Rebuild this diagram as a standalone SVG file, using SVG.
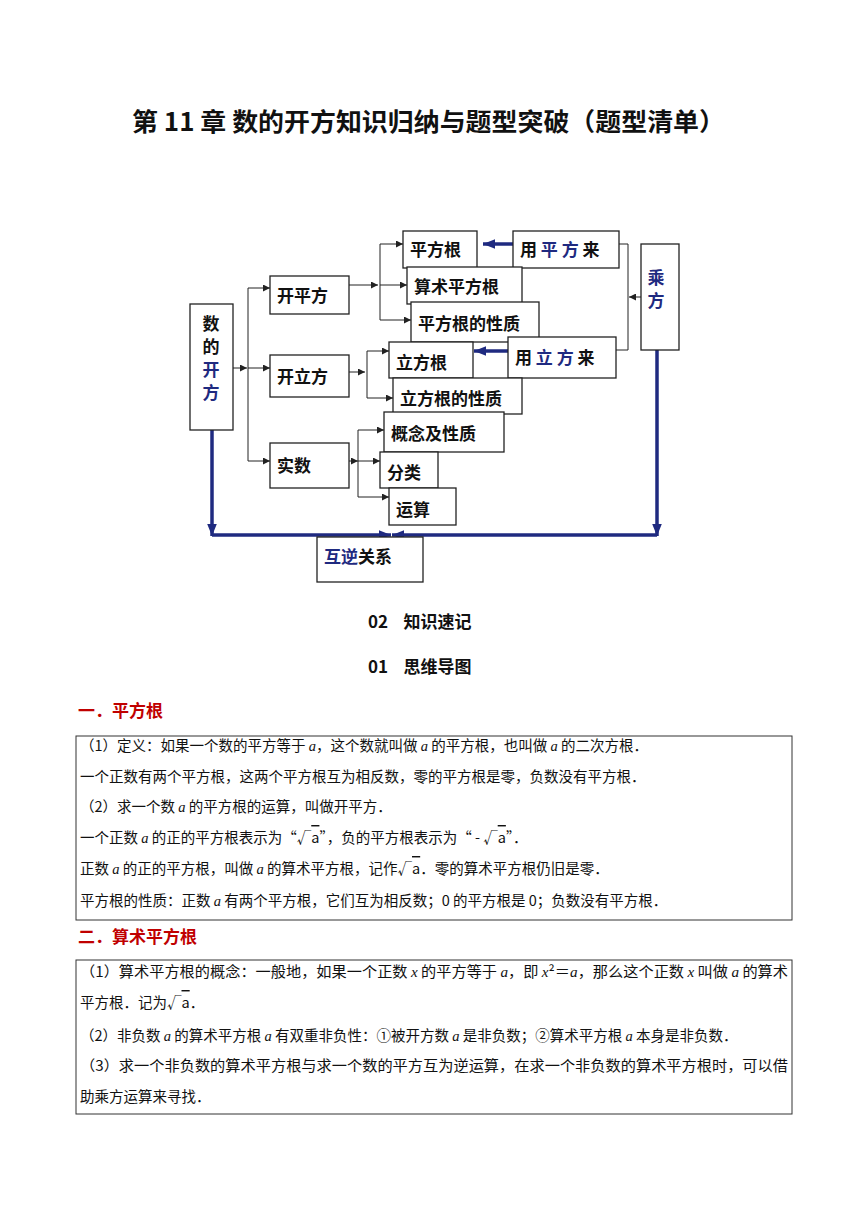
<svg xmlns="http://www.w3.org/2000/svg" width="868" height="1227" viewBox="0 0 868 1227">
<defs>
<style>
.n{fill:#fff;stroke:#222;stroke-width:1.3}
.t{font-family:"Noto Sans CJK SC",sans-serif;font-weight:bold;font-size:17px;fill:#111}
.b{fill:#1f2a80}
.c{fill:none;stroke:#222;stroke-width:1}
.k{fill:none;stroke:#1f2a80;stroke-width:3.5}
.p{font-family:"Noto Sans CJK SC",sans-serif;font-size:14.5px;fill:#111}
.i{font-family:"Liberation Serif",serif;font-style:italic}
</style>
<marker id="a" viewBox="0 0 10 10" refX="10" refY="5" markerWidth="7" markerHeight="7" orient="auto" markerUnits="userSpaceOnUse"><path d="M0,0L10,5L0,10z" fill="#222"/></marker>
<marker id="A" viewBox="0 0 10 10" refX="10" refY="5" markerWidth="12" markerHeight="12" orient="auto" markerUnits="userSpaceOnUse"><path d="M0,1L10,5L0,9z" fill="#1f2a80"/></marker>
</defs>
<rect width="868" height="1227" fill="#fff"/>
<text x="132" y="131" textLength="593" lengthAdjust="spacingAndGlyphs" font-family="Noto Sans CJK SC,sans-serif" font-weight="bold" font-size="25" fill="#111">第 11 章  数的开方知识归纳与题型突破（题型清单）</text>

<g id="connectors">
<path class="c" d="M233,368H247" marker-end="url(#a)"/>
<path class="c" d="M248,288V461"/>
<path class="c" d="M248,288H270" marker-end="url(#a)"/>
<path class="c" d="M248,368H270" marker-end="url(#a)"/>
<path class="c" d="M248,461H270" marker-end="url(#a)"/>
<path class="c" d="M349,285H378" marker-end="url(#a)"/>
<path class="c" d="M380,244V320"/>
<path class="c" d="M380,244H403" marker-end="url(#a)"/>
<path class="c" d="M380,285H407" marker-end="url(#a)"/>
<path class="c" d="M380,320H411" marker-end="url(#a)"/>
<path class="c" d="M349,372H365" marker-end="url(#a)"/>
<path class="c" d="M367,351V398"/>
<path class="c" d="M367,351H389" marker-end="url(#a)"/>
<path class="c" d="M367,398H393" marker-end="url(#a)"/>
<path class="c" d="M340,461H358" marker-end="url(#a)"/>
<path class="c" d="M358,430V497"/>
<path class="c" d="M358,430H384" marker-end="url(#a)"/>
<path class="c" d="M358,461H380" marker-end="url(#a)"/>
<path class="c" d="M358,497H389" marker-end="url(#a)"/>
<path class="c" d="M619,244H628V350H616"/>
<path class="c" d="M641,297H629" marker-end="url(#a)"/>
<path class="k" d="M513,244H483" marker-end="url(#A)"/>
<path class="k" d="M508,351H474" marker-end="url(#A)"/>
<path class="k" d="M212,430V536" marker-end="url(#A)"/>
<path class="k" d="M212,535H391" marker-end="url(#A)"/>
<path class="k" d="M657,350V536" marker-end="url(#A)"/>
<path class="k" d="M657,535H392" marker-end="url(#A)"/>
</g>

<g id="n1"><rect class="n" x="190" y="304" width="43" height="126"/><text class="t" font-size="19" x="211" y="330" text-anchor="middle">数</text><text class="t" font-size="19" x="211" y="353" text-anchor="middle">的</text><text class="t b" font-size="19" x="211" y="376" text-anchor="middle">开</text><text class="t b" font-size="19" x="211" y="399" text-anchor="middle">方</text></g>
<g id="n2"><rect class="n" x="270" y="276" width="79" height="38"/><text class="t" x="277" y="302">开平方</text></g>
<g id="n3"><rect class="n" x="270" y="355" width="79" height="42"/><text class="t" x="277" y="383">开立方</text></g>
<g id="n4"><rect class="n" x="270" y="443" width="79" height="45"/><text class="t" x="277" y="472">实数</text></g>
<g id="n5"><rect class="n" x="403" y="231" width="74" height="37"/><text class="t" x="410" y="256">平方根</text></g>
<g id="n6"><rect class="n" x="513" y="231" width="106" height="37"/><text class="t" x="520" y="256">用 <tspan class="b">平</tspan> <tspan class="b">方</tspan> 来</text></g>
<g id="n7"><rect class="n" x="407" y="267" width="115" height="37"/><text class="t" x="414" y="293">算术平方根</text></g>
<g id="n8"><rect class="n" x="411" y="302" width="128" height="40"/><text class="t" x="418" y="330">平方根的性质</text></g>
<g id="n9"><rect class="n" x="389" y="342" width="84" height="36"/><text class="t" x="396" y="369">立方根</text></g>
<g id="n10"><rect class="n" x="508" y="337" width="108" height="41"/><text class="t" x="515" y="364">用 <tspan class="b">立</tspan> <tspan class="b">方</tspan> 来</text></g>
<g id="n11"><rect class="n" x="393" y="378" width="129" height="36"/><text class="t" x="400" y="405">立方根的性质</text></g>
<g id="n12"><rect class="n" x="384" y="412" width="120" height="40"/><text class="t" x="391" y="440">概念及性质</text></g>
<g id="n13"><rect class="n" x="380" y="452" width="58" height="36"/><text class="t" x="387" y="479">分类</text></g>
<g id="n14"><rect class="n" x="389" y="488" width="67" height="37"/><text class="t" x="396" y="516">运算</text></g>
<g id="n15"><rect class="n" x="641" y="244" width="38" height="106"/><text class="t b" font-size="19" x="656" y="284" text-anchor="middle">乘</text><text class="t b" font-size="19" x="656" y="307" text-anchor="middle">方</text></g>
<g id="n16"><rect class="n" x="317" y="537" width="106" height="45"/><text class="t" x="324" y="563"><tspan class="b">互逆</tspan>关系</text></g>

<text class="t" x="368" y="628" font-size="18" xml:space="preserve">02    知识速记</text>
<text class="t" x="368" y="673" font-size="18" xml:space="preserve">01    思维导图</text>
<text class="t" x="78" y="717" font-size="18" style="fill:#c00000">一．平方根</text>
<rect x="76" y="736" width="716" height="184" fill="none" stroke="#333" stroke-width="1"/>
<text class="p" x="80" y="751">（1）定义：如果一个数的平方等于 <tspan class="i">a</tspan>，这个数就叫做 <tspan class="i">a</tspan> 的平方根，也叫做 <tspan class="i">a</tspan> 的二次方根．</text>
<text class="p" x="80" y="782">一个正数有两个平方根，这两个平方根互为相反数，零的平方根是零，负数没有平方根．</text>
<text class="p" x="80" y="812">（2）求一个数 <tspan class="i">a</tspan> 的平方根的运算，叫做开平方．</text>
<text class="p" x="80" y="843">一个正数 <tspan class="i">a</tspan> 的正的平方根表示为“√<tspan text-decoration="overline">a</tspan>”，负的平方根表示为“ - √<tspan text-decoration="overline">a</tspan>”．</text>
<text class="p" x="80" y="874">正数 <tspan class="i">a</tspan> 的正的平方根，叫做 <tspan class="i">a</tspan> 的算术平方根，记作√<tspan text-decoration="overline">a</tspan>．零的算术平方根仍旧是零．</text>
<text class="p" x="80" y="906">平方根的性质：正数 <tspan class="i">a</tspan> 有两个平方根，它们互为相反数；0 的平方根是 0；负数没有平方根．</text>
<text class="t" x="78" y="943" font-size="18" style="fill:#c00000">二．算术平方根</text>
<rect x="76" y="960" width="716" height="154" fill="none" stroke="#333" stroke-width="1"/>
<text class="p" x="80" y="977" textLength="708" lengthAdjust="spacingAndGlyphs">（1）算术平方根的概念：一般地，如果一个正数 <tspan class="i">x</tspan> 的平方等于 <tspan class="i">a</tspan>，即 <tspan class="i">x</tspan>²＝<tspan class="i">a</tspan>，那么这个正数 <tspan class="i">x</tspan> 叫做 <tspan class="i">a</tspan> 的算术</text>
<text class="p" x="80" y="1008">平方根．记为√<tspan text-decoration="overline">a</tspan>．</text>
<text class="p" x="80" y="1041">（2）非负数 <tspan class="i">a</tspan> 的算术平方根 <tspan class="i">a</tspan> 有双重非负性：①被开方数 <tspan class="i">a</tspan> 是非负数；②算术平方根 <tspan class="i">a</tspan> 本身是非负数．</text>
<text class="p" x="80" y="1071" textLength="708" lengthAdjust="spacingAndGlyphs">（3）求一个非负数的算术平方根与求一个数的平方互为逆运算，在求一个非负数的算术平方根时，可以借</text>
<text class="p" x="80" y="1102">助乘方运算来寻找．</text>
</svg>
